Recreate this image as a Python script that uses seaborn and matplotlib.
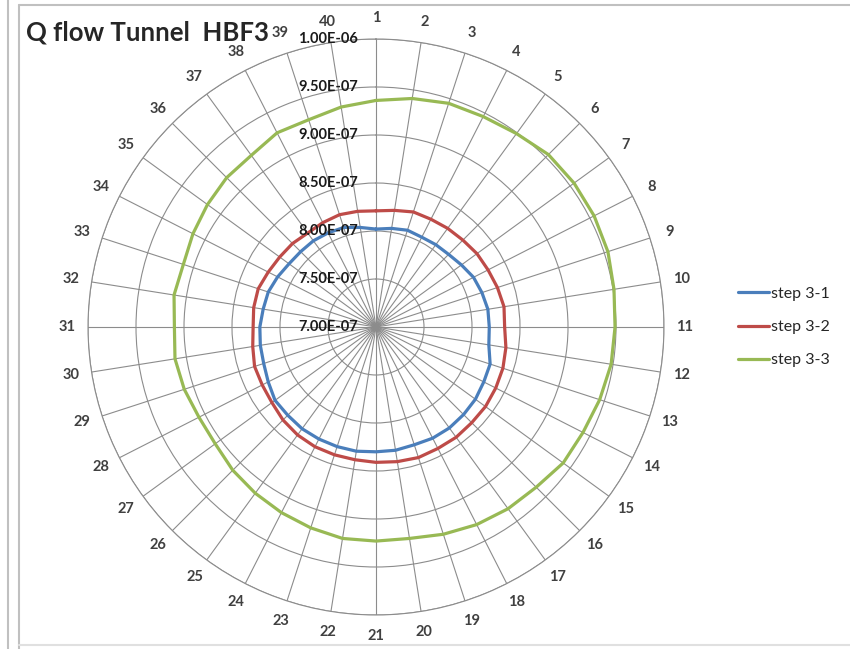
import numpy as np
import pandas as pd
import seaborn as sns
import matplotlib
matplotlib.use("Agg")
from matplotlib import pyplot as plt
from matplotlib.lines import Line2D

# data, units of 1e-7
cats = [str(i) for i in range(1, 41)]
step31 = [8.02, 8.04, 8.06, 8.05, 8.06, 8.07, 8.10, 8.14, 8.16, 8.18,
          8.18, 8.19, 8.25, 8.26, 8.28, 8.29, 8.30, 8.30, 8.29, 8.30,
          8.30, 8.31, 8.31, 8.31, 8.31, 8.30, 8.30, 8.26, 8.23, 8.22,
          8.21, 8.19, 8.18, 8.15, 8.12, 8.11, 8.11, 8.10, 8.09, 8.05]
step32 = [8.21, 8.23, 8.26, 8.26, 8.27, 8.28, 8.30, 8.31, 8.33, 8.35,
          8.34, 8.37, 8.39, 8.40, 8.41, 8.41, 8.42, 8.42, 8.43, 8.42,
          8.41, 8.40, 8.40, 8.40, 8.39, 8.37, 8.34, 8.33, 8.33, 8.30,
          8.28, 8.29, 8.29, 8.26, 8.24, 8.23, 8.21, 8.22, 8.23, 8.22]
step33 = [9.36, 9.41, 9.45, 9.46, 9.49, 9.54, 9.55, 9.55, 9.54, 9.51,
          9.49, 9.48, 9.45, 9.42, 9.41, 9.36, 9.34, 9.31, 9.27, 9.23,
          9.23, 9.23, 9.20, 9.17, 9.14, 9.11, 9.07, 9.07, 9.10, 9.12,
          9.10, 9.13, 9.11, 9.14, 9.17, 9.20, 9.21, 9.27, 9.27, 9.32]
names = ["step 3-1", "step 3-2", "step 3-3"]
colors = ["#4A7EBB", "#BE4B48", "#98B954"]
rticks = [7.0, 7.5, 8.0, 8.5, 9.0, 9.5, 10.0]
rlabels = ["7.00E-07", "7.50E-07", "8.00E-07", "8.50E-07", "9.00E-07", "9.50E-07", "1.00E-06"]

sns.set_style("white")
plt.rcParams["font.family"] = ["Lato", "DejaVu Sans"]

n = len(cats)
theta = np.arange(n + 1) * 2 * np.pi / n
rows = []
for name, vals in zip(names, [step31, step32, step33]):
    closed = list(vals) + [vals[0]]
    for t, v in zip(theta, closed):
        rows.append({"theta": t, "value": v * 1e-7, "series": name})
df = pd.DataFrame(rows)

fig = plt.figure(figsize=(8.5, 6.49), dpi=100)
ax = fig.add_axes([88 / 850, 34 / 649, 576 / 850, 576 / 649], projection="polar")
ax.set_theta_zero_location("N")
ax.set_theta_direction(-1)

sns.lineplot(data=df, x="theta", y="value", hue="series", palette=colors,
             sort=False, estimator=None, lw=2.3, ax=ax, legend=False)

ax.set_ylim(7.0e-7, 1.0e-6)
ax.set_xticks(theta[:n])
ax.set_xticklabels(cats, fontsize=10.5, fontweight="bold", color="#404040")
ax.tick_params(axis="x", pad=8, length=0)
ax.set_yticks([r * 1e-7 for r in rticks])
ax.set_yticklabels([])
ax.grid(True, color="#8c8c8c", lw=0.8)
ax.spines["polar"].set_color("#8c8c8c")
ax.spines["polar"].set_linewidth(0.8)
ax.set_xlabel("")
ax.set_ylabel("")

for r, lbl in zip(rticks, rlabels):
    ax.annotate(lbl, xy=(0, r * 1e-7), xytext=(-13, 0), textcoords="offset points",
                ha="right", va="center", fontsize=10.5, fontweight="bold",
                color="#1a1a1a")

fig.legend(handles=ax.lines[:3], labels=names, loc="center left",
           bbox_to_anchor=(724 / 850, 1 - 327 / 649), frameon=False,
           fontsize=11.5, handlelength=1.9, handletextpad=0.15,
           labelspacing=1.2)

fig.text(26 / 850, 1 - 40 / 649, "Q flow Tunnel  HBF3", fontsize=18.5,
         fontweight="bold", va="baseline", ha="left")

# chart frame
fig.add_artist(Line2D([19 / 850, 19 / 850], [0, 1 - 5 / 649], color="#c0c0c0", lw=1.5))
fig.add_artist(Line2D([19 / 850, 1], [1 - 5 / 649, 1 - 5 / 649], color="#c0c0c0", lw=1.5))
fig.add_artist(Line2D([19 / 850, 1], [4 / 649, 4 / 649], color="#e0e0e0", lw=1.5))
fig.add_artist(Line2D([8 / 850, 8 / 850], [0, 1], color="#c0c0c0", lw=1.5))

fig.savefig("out.png", dpi=100)
